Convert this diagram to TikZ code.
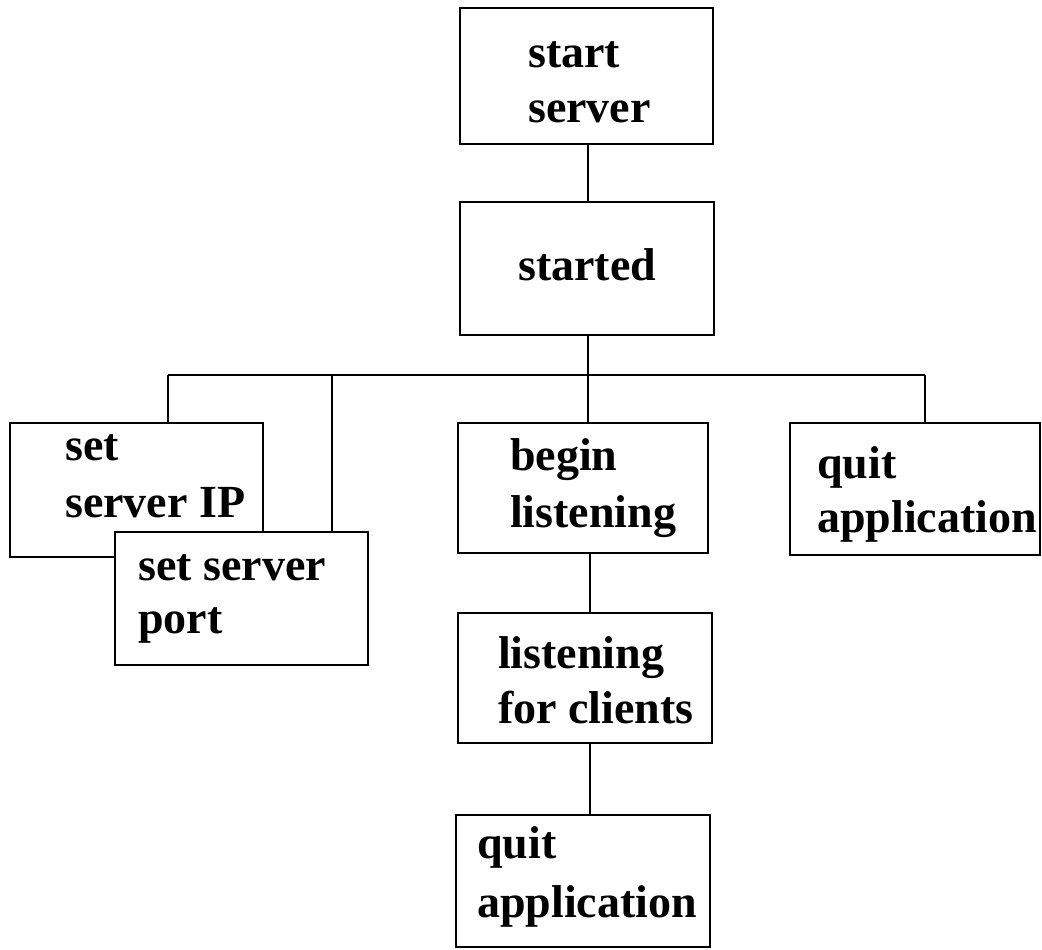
\documentclass[tikz,border=0pt]{standalone}
\usepackage{fontspec}
\setmainfont{Liberation Serif}
\pgfdeclarelayer{paper}
\pgfdeclarelayer{wires}
\pgfsetlayers{paper,wires,main}
\begin{document}
\begin{tikzpicture}[x=1pt,y=-1pt,
  box/.style={draw=black,fill=white,line width=2.5pt,inner sep=0pt,
    rectangle,minimum width=#1},
  box/.default=254pt,
  wire/.style={draw=black,line width=2.5pt},
  lbl/.style={anchor=base west,inner sep=0pt,
    font=\bfseries\fontsize{46}{56}\selectfont}]
\begin{pgfonlayer}{paper}
  \fill[white] (0,0) rectangle (1042,950);
\end{pgfonlayer}
\useasboundingbox (0,0) rectangle (1042,950);

% junction points of the connector tree
\coordinate (busW) at (168,375);
\coordinate (busE) at (925,375);
\coordinate (jPort) at (332,375);
\coordinate (jMid) at (588,375);
\coordinate (jLow) at (590,0);

% boxes
\node[box=253pt,minimum height=136pt] (ss) at (586.5,76) {};
\node[box=254pt,minimum height=133pt] (st) at (587,268.5) {};
\node[box=250pt,minimum height=130pt] (bl) at (583,488) {};
\node[box=250pt,minimum height=132pt] (qr) at (915,489) {};
\node[box=254pt,minimum height=130pt] (lc) at (585,678) {};
\node[box=254pt,minimum height=132pt] (qb) at (583,881) {};
% the two overlapping settings boxes: port box lies over the IP box
\node[box=253pt,minimum height=134pt] (ip) at (136.5,490) {};
\node[box=253pt,minimum height=133pt] (port) at (241.5,598.5) {};

% connectors, kept behind the boxes
\begin{pgfonlayer}{wires}
\draw[wire] (ss.south -| jMid) -- (st.north -| jMid);
\draw[wire] (st.south -| jMid) -- (jMid);
\draw[wire] (busW) -- (busE);
\draw[wire] (busW) -- (ip.north -| busW);
\draw[wire] (jPort) -- (port.north -| jPort);
\draw[wire] (jMid) -- (bl.north -| jMid);
\draw[wire] (busE) -- (qr.north -| busE);
\draw[wire] (bl.south -| jLow) -- (lc.north -| jLow);
\draw[wire] (lc.south -| jLow) -- (qb.north -| jLow);
\end{pgfonlayer}

% labels
\node[lbl] (ssA) at (528,67) {start};
\node[lbl] (ssB) at (528,122) {server};
\node[lbl] (stA) at (518,280) {started};
\node[lbl] (ipA) at (65,460) {set};
\node[lbl] (ipB) at (65,517) {server IP};
\node[lbl] (portA) at (138,580) {set server};
\node[lbl] (portB) at (138,633) {port};
\node[lbl] (blA) at (510,470) {begin};
\node[lbl] (blB) at (510,527) {listening};
\node[lbl] (qrA) at (817,478) {quit};
\node[lbl] (qrB) at (817,532) {application};
\node[lbl] (lcA) at (498,668) {listening};
\node[lbl] (lcB) at (498,723) {for clients};
\node[lbl] (qbA) at (477,858) {quit};
\node[lbl] (qbB) at (477,917) {application};
\end{tikzpicture}
\end{document}
